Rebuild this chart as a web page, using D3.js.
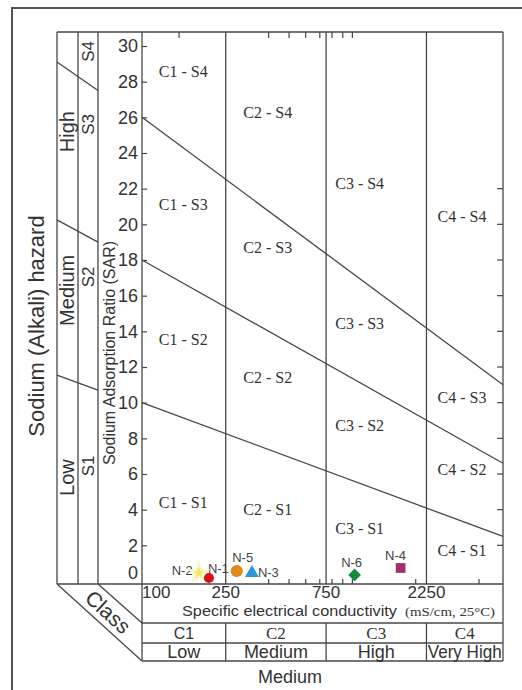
<!DOCTYPE html>
<html>
<head>
<meta charset="utf-8">
<script src="https://cdn.jsdelivr.net/npm/d3@7"></script>
<style>
    body { margin: 0; background: #fff; }
    svg { display: block; }
</style>
</head>
<body>
<div id="chart"></div>
<script>
'use strict'

// salinity classes (EC, µS/cm)
const ecBreaks = [250, 750, 2250];
const ecMax = 5200;
const classNames = ['C1', 'C2', 'C3', 'C4'];
const classLevels = ['Low', 'Medium', 'High', 'Very High'];
const ecTickLabels = [100, 250, 750, 2250];
const topMinorTicks = [150, 400, 500, 600, 700, 800, 900, 1000];
const bottomMinorTicks = [400, 500, 600, 700, 800, 900, 1000, 2000, 4000];

// sodium axis
const sarTicks = [0, 2, 4, 6, 8, 10, 12, 14, 16, 18, 20, 22, 24, 26, 28, 30];
const rightTicks = [2, 4, 6, 8, 10, 12, 14, 16, 18, 20, 22];

// hazard boundary lines: SAR at EC 100 and at right edge
const boundaryLeftSAR = [10, 18, 26];
const boundaryRightSAR = [2.5, 6.6, 11.0];

// schematic lines in the side panel (SAR at outer and inner edge)
const sideOuterSAR = [11.55, 20.25, 29.1];
const sideInnerSAR = [10.7, 19.0, 27.5];
const sodiumLevels = ['Low', 'Medium', 'High'];
const sodiumLevelSAR = [5.8, 16.3, 25.2];
const sodiumClasses = ['S1', 'S2', 'S3', 'S4'];
const sodiumClassSAR = [6.45, 17.05, 25.6, 29.7];

// zone labels: one EC per column, SAR per row (S1..S4)
const zoneEC = [157, 396, 1083, 3320];
const zoneSAR = [
    [4.43, 13.57, 21.09, 28.55],
    [4.04, 11.44, 18.68, 26.25],
    [2.97, 8.75, 14.47, 22.32],
    [1.74, 6.23, 10.32, 20.47]
];

// samples
const sampleNames = ['N-2', 'N-1', 'N-5', 'N-3', 'N-6', 'N-4'];
const sampleEC = [186, 208, 282, 333, 1025, 1695];
const sampleSAR = [0.45, 0.17, 0.56, 0.45, 0.34, 0.73];

const markerStyle = {
    'N-2': { shape: d3.symbolStar, size: 95, fill: '#f2e65a', stroke: '#fbf6c4', rotate: 0, anchor: 'end', dx: -6, dy: -3 },
    'N-1': { shape: d3.symbolCircle, size: 80, fill: '#d0121c', stroke: 'none', rotate: 0, anchor: 'start', dx: -1, dy: -10 },
    'N-5': { shape: d3.symbolCircle, size: 115, fill: '#e0861e', stroke: 'none', rotate: 0, anchor: 'middle', dx: 6, dy: -14 },
    'N-3': { shape: d3.symbolTriangle, size: 85, fill: '#2c98d4', stroke: 'none', rotate: 0, anchor: 'start', dx: 6, dy: -1 },
    'N-6': { shape: d3.symbolSquare, size: 80, fill: '#17893a', stroke: 'none', rotate: 45, anchor: 'middle', dx: -3, dy: -12 },
    'N-4': { shape: d3.symbolSquare, size: 95, fill: '#a2306f', stroke: 'none', rotate: 0, anchor: 'middle', dx: -5, dy: -13 }
};

const W = 522, H = 690;
const plot = { left: 142, right: 503, top: 32, bottom: 584 };
const panel = { outer: 57, mid: 78, inner: 98 };
const table = { top: 623, mid: 643, bottom: 661 };
const ink = '#474747';
const textInk = '#333';
const sans = '"Liberation Sans", Arial, sans-serif';
const serif = '"Liberation Serif", "Times New Roman", serif';

const x = d3.scaleLog().domain([100, ecMax]).range([plot.left, plot.right]);
const y = d3.scaleLinear().domain([0, 30]).range([581, 46]);

const svg = d3.select('#chart').append('svg')
    .attr('width', W)
    .attr('height', H);

const line = (x1, y1, x2, y2, w = 1.3) => svg.append('line')
    .attr('x1', x1).attr('y1', y1).attr('x2', x2).attr('y2', y2)
    .attr('stroke', ink).attr('stroke-width', w);

// outer frame
svg.append('path')
    .attr('d', `M12,${H} V8 H${W}`)
    .attr('fill', 'none')
    .attr('stroke', '#555')
    .attr('stroke-width', 2);

// plot frame and side panel
line(panel.outer, plot.top, plot.right, plot.top);
line(panel.outer, plot.bottom, plot.right, plot.bottom);
[panel.outer, panel.mid, panel.inner].forEach(px => line(px, plot.top, px, plot.bottom));
line(plot.left, plot.top, plot.left, table.bottom);
line(plot.right, plot.top, plot.right, table.bottom);

// class columns
ecBreaks.forEach(v => {
    line(x(v), plot.top, x(v), plot.bottom);
    line(x(v), table.top, x(v), table.bottom);
});

// class table
line(plot.left, table.top, plot.right, table.top);
line(plot.left, table.mid, plot.right, table.mid);
line(plot.left, table.bottom, plot.right, table.bottom);
line(panel.outer, plot.bottom, plot.left, table.bottom);
line(panel.inner, plot.bottom, plot.left, table.top);

// hazard boundaries
svg.selectAll('.boundary')
    .data(boundaryLeftSAR)
    .enter().append('line')
    .attr('class', 'boundary')
    .attr('x1', x(100))
    .attr('y1', d => y(d))
    .attr('x2', x(ecMax))
    .attr('y2', (d, i) => y(boundaryRightSAR[i]))
    .attr('stroke', ink)
    .attr('stroke-width', 1.3);

svg.selectAll('.side-line')
    .data(sideOuterSAR)
    .enter().append('line')
    .attr('class', 'side-line')
    .attr('x1', panel.outer)
    .attr('y1', d => y(d))
    .attr('x2', panel.inner)
    .attr('y2', (d, i) => y(sideInnerSAR[i]))
    .attr('stroke', ink)
    .attr('stroke-width', 1.3);

// left axis
const leftAxis = svg.append('g')
    .attr('transform', `translate(${plot.left},0)`)
    .call(d3.axisLeft(y).tickValues(sarTicks).tickSize(-5).tickPadding(4));
leftAxis.select('.domain').remove();
leftAxis.selectAll('.tick line').attr('stroke', ink).attr('stroke-width', 1.2)
    .filter(d => d === 0).remove();
leftAxis.selectAll('.tick text')
    .attr('fill', textInk)
    .style('font', `18px ${sans}`)
    .attr('dy', d => d === 0 ? '-0.15em' : '0.33em');

// right ticks (no labels)
svg.selectAll('.rtick')
    .data(rightTicks)
    .enter().append('line')
    .attr('class', 'rtick')
    .attr('x1', plot.right - 6).attr('x2', plot.right)
    .attr('y1', d => y(d)).attr('y2', d => y(d))
    .attr('stroke', ink).attr('stroke-width', 1.2);

// minor ticks on top and bottom
svg.selectAll('.ttick')
    .data(topMinorTicks)
    .enter().append('line')
    .attr('class', 'ttick')
    .attr('x1', d => x(d)).attr('x2', d => x(d))
    .attr('y1', plot.top).attr('y2', plot.top + 6)
    .attr('stroke', ink).attr('stroke-width', 1.2);

svg.selectAll('.btick')
    .data(bottomMinorTicks)
    .enter().append('line')
    .attr('class', 'btick')
    .attr('x1', d => x(d)).attr('x2', d => x(d))
    .attr('y1', plot.bottom - 5).attr('y2', plot.bottom)
    .attr('stroke', ink).attr('stroke-width', 1.2);

// EC labels
svg.selectAll('.eclabel')
    .data(ecTickLabels)
    .enter().append('text')
    .attr('class', 'eclabel')
    .attr('x', d => x(d))
    .attr('y', 598)
    .attr('text-anchor', (d, i) => i === 0 ? 'start' : 'middle')
    .attr('fill', textInk)
    .style('font', `17px ${sans}`)
    .text(d => d);

svg.append('text')
    .attr('x', 182).attr('y', 616)
    .attr('fill', textInk)
    .style('font', `15.5px ${sans}`)
    .attr('textLength', 215)
    .attr('lengthAdjust', 'spacingAndGlyphs')
    .text('Specific electrical conductivity');

svg.append('text')
    .attr('x', 405).attr('y', 616)
    .attr('fill', textInk)
    .style('font', `13px ${serif}`)
    .attr('textLength', 90)
    .attr('lengthAdjust', 'spacingAndGlyphs')
    .text('(mS/cm, 25°C)');

// class names and levels
const bounds = [100, ...ecBreaks, ecMax];
const colMid = i => (x(bounds[i]) + x(bounds[i + 1])) / 2;

svg.selectAll('.cname')
    .data(classNames)
    .enter().append('text')
    .attr('class', 'cname')
    .attr('x', (d, i) => colMid(i))
    .attr('y', table.mid - 4)
    .attr('text-anchor', 'middle')
    .attr('fill', textInk)
    .style('font', (d, i) => i === 0 ? `16px ${sans}` : `17px ${serif}`)
    .text(d => d);

svg.selectAll('.clevel')
    .data(classLevels)
    .enter().append('text')
    .attr('class', 'clevel')
    .attr('x', (d, i) => colMid(i))
    .attr('y', table.bottom - 3)
    .attr('text-anchor', 'middle')
    .attr('fill', textInk)
    .style('font', `18px ${sans}`)
    .attr('textLength', d => d === 'Very High' ? 74 : null)
    .attr('lengthAdjust', 'spacingAndGlyphs')
    .text(d => d);

svg.append('text')
    .attr('x', 290).attr('y', 683)
    .attr('text-anchor', 'middle')
    .attr('fill', textInk)
    .style('font', `18px ${sans}`)
    .text('Medium');

svg.append('text')
    .attr('transform', 'translate(108,612) rotate(42.5)')
    .attr('text-anchor', 'middle')
    .attr('dy', '0.35em')
    .attr('fill', textInk)
    .style('font', `21px ${sans}`)
    .text('Class');

// side panel labels
const vText = (px, py, txt, size) => svg.append('text')
    .attr('transform', `translate(${px},${py}) rotate(-90)`)
    .attr('text-anchor', 'middle')
    .attr('dy', '0.35em')
    .attr('fill', textInk)
    .style('font', `${size}px ${sans}`)
    .text(txt);

vText(36, 326, 'Sodium (Alkali) hazard', 22);
vText(109, 353, 'Sodium Adsorption Ratio (SAR)', 16);
sodiumLevels.forEach((d, i) => vText(67, y(sodiumLevelSAR[i]), d, 20));
sodiumClasses.forEach((d, i) => vText(88, y(sodiumClassSAR[i]), d, 17));

// zone labels
zoneSAR.forEach((col, ci) => {
    col.forEach((sar, si) => {
        svg.append('text')
            .attr('x', x(zoneEC[ci]))
            .attr('y', y(sar))
            .attr('dy', '0.35em')
            .attr('text-anchor', 'middle')
            .attr('fill', textInk)
            .style('font', `16px ${serif}`)
            .text(`${classNames[ci]} - ${sodiumClasses[si]}`);
    });
});

// samples: labels first, markers over them
const samples = sampleNames.map((name, i) => ({ name, ec: sampleEC[i], sar: sampleSAR[i] }));

svg.selectAll('.slabel')
    .data(samples)
    .enter().append('text')
    .attr('class', 'slabel')
    .attr('x', d => x(d.ec) + markerStyle[d.name].dx)
    .attr('y', d => y(d.sar) + markerStyle[d.name].dy)
    .attr('dy', '0.35em')
    .attr('text-anchor', d => markerStyle[d.name].anchor)
    .attr('fill', '#444')
    .style('font', `13px ${sans}`)
    .text(d => d.name);

svg.selectAll('.marker')
    .data(samples)
    .enter().append('path')
    .attr('class', 'marker')
    .attr('transform', d => `translate(${x(d.ec)},${y(d.sar)}) rotate(${markerStyle[d.name].rotate})`)
    .attr('d', d => d3.symbol().type(markerStyle[d.name].shape).size(markerStyle[d.name].size)())
    .attr('fill', d => markerStyle[d.name].fill)
    .attr('stroke', d => markerStyle[d.name].stroke)
    .attr('stroke-width', 2);
</script>
</body>
</html>
